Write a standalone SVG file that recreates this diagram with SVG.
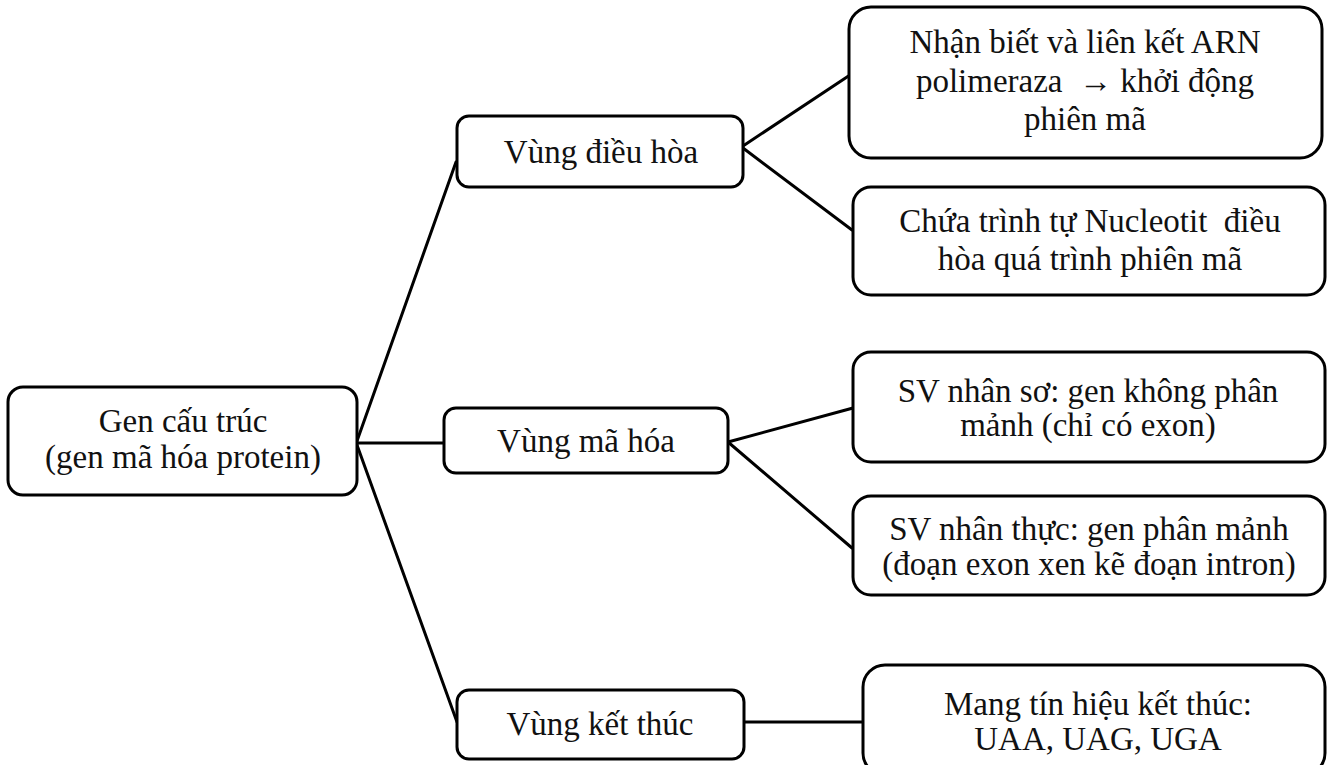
<svg xmlns="http://www.w3.org/2000/svg" width="1330" height="765" viewBox="0 0 1330 765">
<style>
.box{fill:#fff;stroke:#000;stroke-width:3}
.t{font-family:"Liberation Serif","Times New Roman",serif;font-size:33px;fill:#111;text-anchor:middle;white-space:pre}
.c{stroke:#000;stroke-width:3;fill:none;stroke-linecap:round}
</style>
<rect width="1330" height="765" fill="#fff"/>
<g id="connectors">
<line class="c" x1="357" y1="441" x2="456" y2="162"/>
<line class="c" x1="357" y1="443" x2="444" y2="443"/>
<line class="c" x1="357" y1="445" x2="457" y2="722"/>
<line class="c" x1="743" y1="146" x2="850" y2="75"/>
<line class="c" x1="743" y1="148" x2="852" y2="230"/>
<line class="c" x1="728" y1="442" x2="853" y2="408"/>
<line class="c" x1="728" y1="442" x2="852" y2="548"/>
<line class="c" x1="744" y1="722" x2="863" y2="722"/>
</g>
<g id="root">
<rect class="box" x="8" y="387" width="349" height="108" rx="15"/>
<text class="t" x="183" y="432">Gen cấu trúc</text>
<text class="t" x="183" y="468">(gen mã hóa protein)</text>
</g>
<g id="vung-dieu-hoa">
<rect class="box" x="457" y="116" width="286" height="71" rx="12"/>
<text class="t" x="601" y="163">Vùng điều hòa</text>
</g>
<g id="vung-ma-hoa">
<rect class="box" x="444" y="408" width="284" height="65" rx="12"/>
<text class="t" x="586" y="452">Vùng mã hóa</text>
</g>
<g id="vung-ket-thuc">
<rect class="box" x="457" y="690" width="287" height="69" rx="12"/>
<text class="t" x="600" y="735">Vùng kết thúc</text>
</g>
<g id="nhan-biet">
<rect class="box" x="849" y="7" width="473" height="151" rx="22"/>
<text class="t" x="1085" y="53">Nhận biết và liên kết ARN</text>
<text class="t" x="1085" y="92">polimeraza  → khởi động</text>
<text class="t" x="1085" y="130">phiên mã</text>
</g>
<g id="chua-trinh-tu">
<rect class="box" x="853" y="187" width="472" height="108" rx="18"/>
<text class="t" x="1090" y="232">Chứa trình tự Nucleotit  điều</text>
<text class="t" x="1090" y="270">hòa quá trình phiên mã</text>
</g>
<g id="nhan-so">
<rect class="box" x="853" y="352" width="472" height="110" rx="18"/>
<text class="t" x="1088" y="402">SV nhân sơ: gen không phân</text>
<text class="t" x="1088" y="436">mảnh (chỉ có exon)</text>
</g>
<g id="nhan-thuc">
<rect class="box" x="853" y="496" width="472" height="99" rx="18"/>
<text class="t" x="1089" y="540">SV nhân thực: gen phân mảnh</text>
<text class="t" x="1089" y="575">(đoạn exon xen kẽ đoạn intron)</text>
</g>
<g id="mang-tin-hieu">
<rect class="box" x="863" y="665" width="462" height="110" rx="22"/>
<text class="t" x="1098" y="715">Mang tín hiệu kết thúc:</text>
<text class="t" x="1098" y="750">UAA, UAG, UGA</text>
</g>
</svg>
